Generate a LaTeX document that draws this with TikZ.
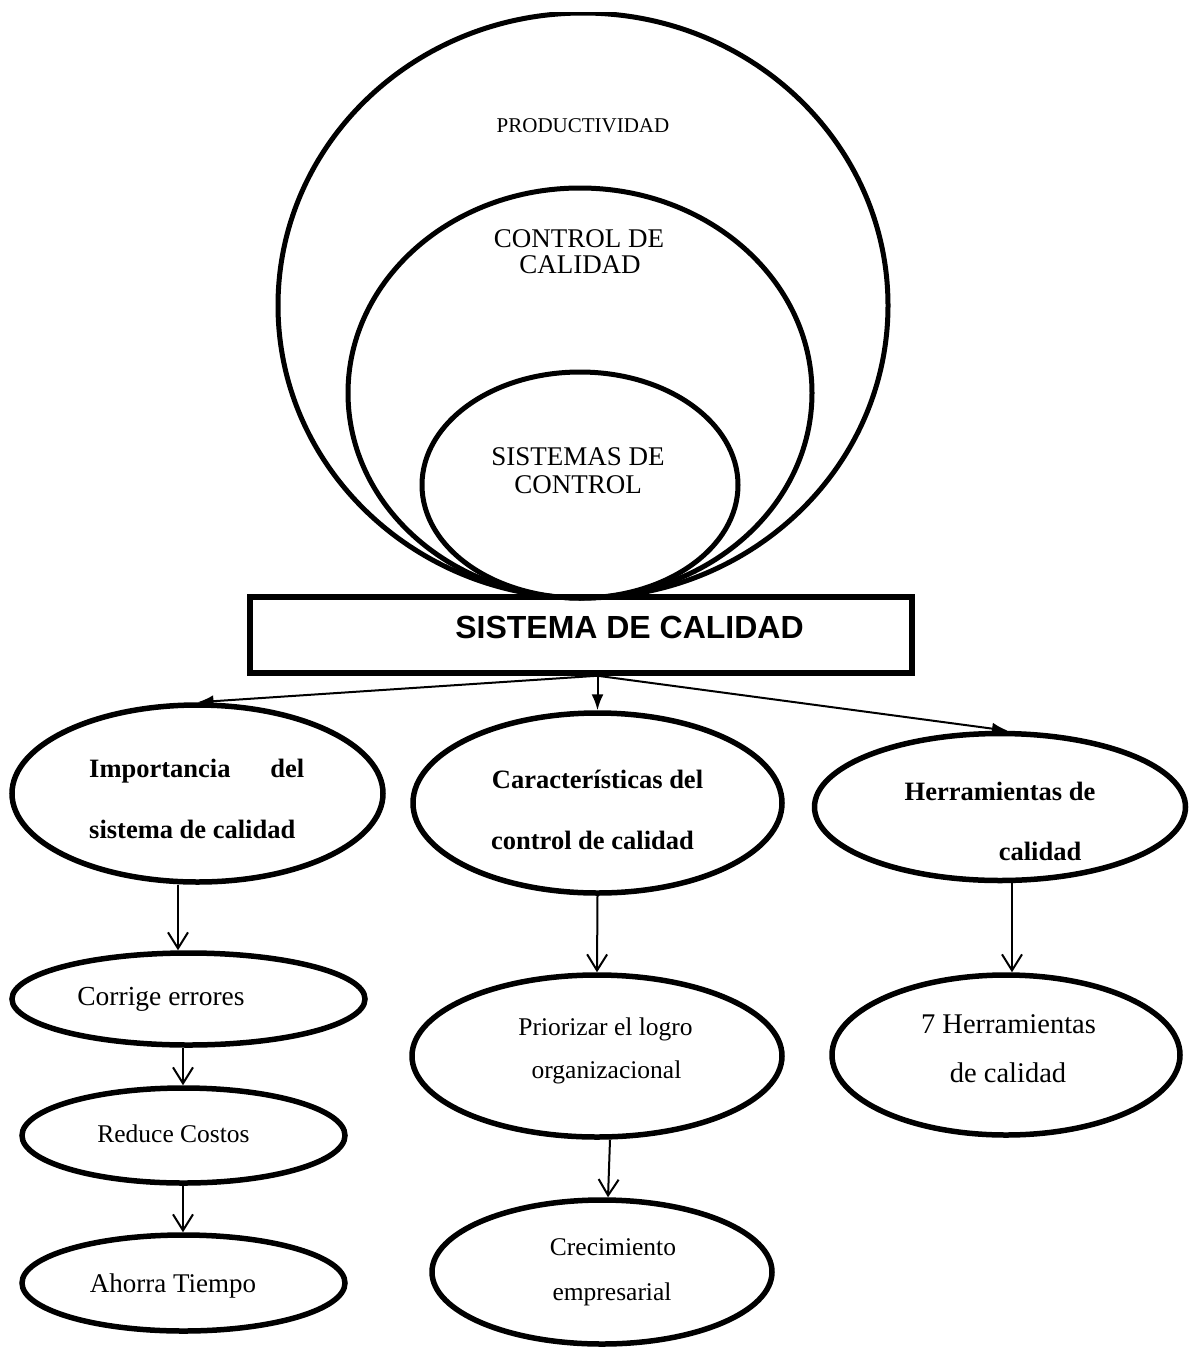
\documentclass[tikz,border=0pt]{standalone}
\usepackage{fontspec}
\setmainfont{Liberation Serif}
\newfontfamily\headfont{Liberation Sans}
\usetikzlibrary{shapes.geometric,arrows.meta,calc}

\begin{document}
\begin{tikzpicture}[x=1pt,y=-1pt,
  ring/.style={ellipse,draw,line width=5pt,inner sep=0pt},
  bubble/.style={ellipse,draw,line width=5.5pt,inner sep=0pt},
  lbl/.style={anchor=base,inner sep=0pt},
  plain/.style={lbl,font=\fontsize{25.5}{30}\selectfont},
  capsA/.style={lbl,font=\fontsize{27}{30}\selectfont},
  heavy/.style={lbl,font=\fontsize{26.5}{30}\selectfont\bfseries},
  down/.style={line width=2pt,-{Latex[length=16pt,width=12pt]}},
  barb/.style={line width=2pt,-{Straight Barb[length=16pt,width=20pt,line width=2pt]}}
]
\useasboundingbox (0,0) rectangle (1194,1349);

% nested rings
\begin{scope}
  \clip (0,12) rectangle (1194,1349);
  \node[ring,minimum width=610pt,minimum height=585pt] (prod) at (583,305.5) {};
\end{scope}
\node[ring,minimum width=464pt,minimum height=410pt] (ctrl) at (580,393) {};
\node[ring,minimum width=316pt,minimum height=226pt] (sctrl) at (580,485) {};

\node[lbl,font=\fontsize{21}{24}\selectfont] (t-prod) at (583,132) {PRODUCTIVIDAD};
\node[capsA] (t-ctrl1) at (579,247) {CONTROL DE};
\node[capsA] (t-ctrl2) at (580,273) {CALIDAD};
\node[capsA] (t-sc1) at (578,465) {SISTEMAS DE};
\node[capsA] (t-sc2) at (578,493) {CONTROL};

% main box
\node[draw,line width=5.5pt,minimum width=662pt,minimum height=76pt,inner sep=0pt] (sys) at (581,635) {};
\node[lbl,font=\fontsize{32}{36}\selectfont\headfont\bfseries] (t-sys) at (629.5,638) {SISTEMA DE CALIDAD};

% first level
\node[bubble,minimum width=371pt,minimum height=177pt] (imp) at (197.5,793.5) {};
\node[bubble,minimum width=369pt,minimum height=180pt] (car) at (597.5,803) {};
\node[bubble,minimum width=371pt,minimum height=147pt] (herr) at (1000,807) {};

\node[heavy,anchor=base west] (t-imp1) at (89,777) {\makebox[215pt][s]{Importancia del}};
\node[heavy,anchor=base west] (t-imp2) at (89,838) {sistema de calidad};
\node[heavy] (t-car1) at (597.5,788) {Características del};
\node[heavy] (t-car2) at (592.5,849) {control de calidad};
\node[heavy] (t-herr1) at (1000,800) {Herramientas de};
\node[heavy] (t-herr2) at (1040,860) {calidad};

% second level
\node[bubble,minimum width=353pt,minimum height=92pt] (corr) at (188.5,999) {};
\node[bubble,minimum width=323pt,minimum height=95pt] (red) at (183.5,1135.5) {};
\node[bubble,minimum width=323pt,minimum height=96pt] (aho) at (183.5,1283) {};
\node[bubble,minimum width=370pt,minimum height=162pt] (prio) at (597,1056) {};
\node[bubble,minimum width=340pt,minimum height=144pt] (crec) at (602,1272) {};
\node[bubble,minimum width=348pt,minimum height=160pt] (siete) at (1006,1055) {};

\node[lbl,font=\fontsize{27.5}{30}\selectfont] (t-corr) at (161,1005) {Corrige errores};
\node[plain] (t-red) at (173.5,1142) {Reduce Costos};
\node[lbl,font=\fontsize{27}{30}\selectfont] (t-aho) at (173,1292) {Ahorra Tiempo};
\node[plain] (t-prio1) at (605.5,1035) {Priorizar el logro};
\node[plain] (t-prio2) at (606.5,1078) {organizacional};
\node[plain] (t-crec1) at (613,1255) {Crecimiento};
\node[plain] (t-crec2) at (612,1300) {empresarial};
\node[lbl,font=\fontsize{28.5}{32}\selectfont] (t-siete1) at (1008.5,1033) {7 Herramientas};
\node[lbl,font=\fontsize{28.5}{32}\selectfont] (t-siete2) at (1008,1082) {de calidad};

% connectors from the main box
\draw[down] (sys.south -| car.north) -- (imp.north);
\draw[down] (sys.south -| car.north) -- (car.north);
\draw[down] (sys.south -| car.north) -- ($(herr.north)+(8,0)$);

% connectors between bubbles
\draw[barb] ($(imp.south)+(-19.5,0)$) -- ($(corr.north)+(-10.5,0)$);
\draw[barb] ($(corr.south)+(-5.5,0)$) -- ($(red.north)+(-0.5,0)$);
\draw[barb] ($(red.south)+(-0.5,0)$) -- ($(aho.north)+(-0.5,0)$);
\draw[barb] (car.south) -- (prio.north);
\draw[barb] ($(prio.south)+(13,0)$) -- ($(crec.north)+(6,0)$);
\draw[barb] ($(herr.south)+(12,0)$) -- ($(siete.north)+(6,0)$);
\end{tikzpicture}
\end{document}
